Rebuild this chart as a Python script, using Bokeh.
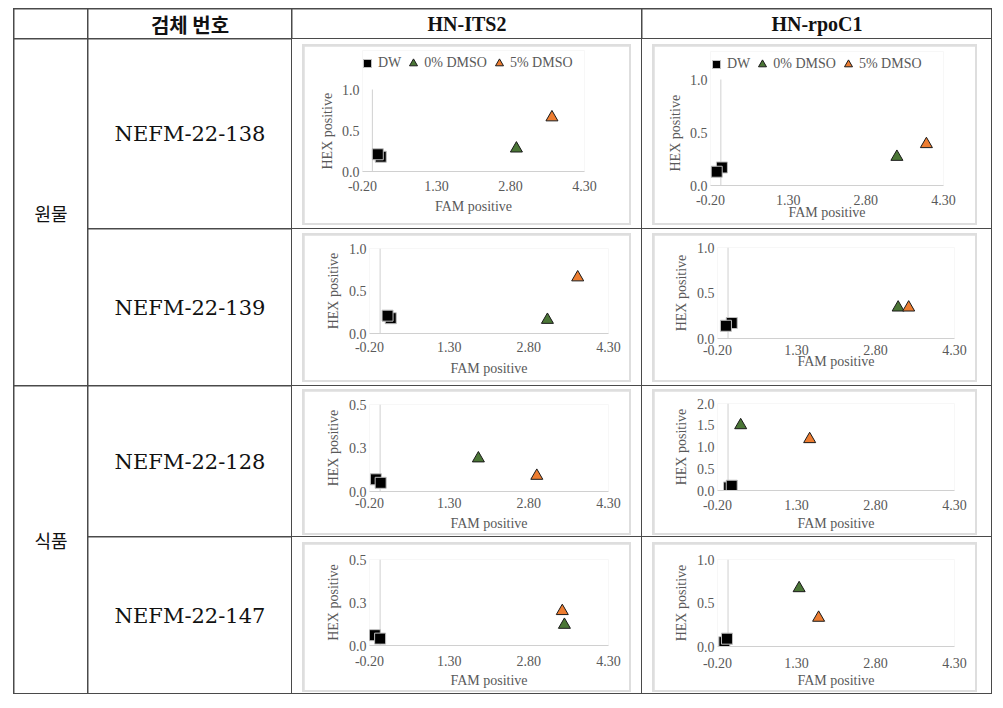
from bokeh.plotting import figure
from bokeh.layouts import row, column
from bokeh.models import Range1d, FixedTicker, PrintfTickFormatter, Legend, LegendItem, Spacer, Title
from bokeh.core.properties import value
from bokeh.embed import file_html
from bokeh.resources import INLINE

# ---------------- data ----------------
headers = ["", "검체 번호", "HN-ITS2", "HN-rpoC1"]
groups = ["원물", "식품"]
samples = ["NEFM-22-138", "NEFM-22-139", "NEFM-22-128", "NEFM-22-147"]
series_names = ["DW", "0% DMSO", "5% DMSO"]
x_axis_title = "FAM positive"
y_axis_title = "HEX positive"
x_ticks = [-0.2, 1.3, 2.8, 4.3]
y_axis_cross = 0.0

its2_y_ticks = [[0.0, 0.5, 1.0], [0.0, 0.5, 1.0], [0.0, 0.25, 0.5], [0.0, 0.25, 0.5]]
rpoc1_y_ticks = [[0.0, 0.5, 1.0], [0.0, 0.5, 1.0], [0.0, 0.5, 1.0, 1.5, 2.0], [0.0, 0.5, 1.0]]

# HN-ITS2 (samples in order 138, 139, 128, 147)
its2_dw_fam = [[0.17, 0.11], [0.20, 0.14], [-0.08, 0.01], [-0.10, 0.00]]
its2_dw_hex = [[0.18, 0.21], [0.18, 0.21], [0.07, 0.05], [0.06, 0.04]]
its2_dmso0_fam = [2.92, 3.15, 1.85, 3.47]
its2_dmso0_hex = [0.28, 0.16, 0.19, 0.12]
its2_dmso5_fam = [3.64, 3.72, 2.95, 3.43]
its2_dmso5_hex = [0.66, 0.66, 0.09, 0.20]

# HN-rpoC1
rpoc1_dw_fam = [[0.02, -0.08], [0.07, -0.04], [0.02, 0.07], [-0.07, -0.02]]
rpoc1_dw_hex = [[0.17, 0.13], [0.17, 0.14], [0.07, 0.11], [0.05, 0.09]]
rpoc1_dmso0_fam = [3.40, 3.23, 0.24, 1.35]
rpoc1_dmso0_hex = [0.27, 0.34, 1.50, 0.67]
rpoc1_dmso5_fam = [3.97, 3.43, 1.55, 1.72]
rpoc1_dmso5_hex = [0.39, 0.34, 1.18, 0.33]

# ---------------- style / layout ----------------
LINE = "#4a4a4a"
BOX = "#dedede"
AXIS = "#d0d0d0"
TXT = "#595959"
GREEN = "#4b7636"
ORANGE = "#ed7d31"
SERIF = "Liberation Serif"
KOR = "Noto Sans CJK KR"

col_w = [73, 203, 349, 349]
header_h = 29
row_h = [189, 156, 150, 156]

# (fig_w, fig_h, border_l, border_r, border_t, border_b, tick_standoff, title_standoff,
#  legend_band_px, hex_title_offset_px)
its2_geo = [(325, 177, 58, 45, 43, 52, 9, 5, 39, 2),
            (325, 145, 65, 21, 13, 47, 8, 6, 0, 0),
            (325, 142, 65, 21, 13, 42, 6, 5, 0, 0),
            (325, 146, 65, 21, 15, 45, 10, 4, 0, 0)]
rpoc1_geo = [(321, 177, 56, 32, 33, 38, 9, -3, 28, 14),
             (321, 145, 63, 21, 12, 42, 6, -4, 0, 0),
             (321, 142, 63, 21, 12, 42, 9, 3, 0, 0),
             (321, 146, 63, 21, 15, 44, 11, 2, 0, 0)]
# cell padding (top, right, bottom, left) around chart box
its2_pad = [(5, 10, 3, 10), (4, 10, 3, 10), (3, 10, 1, 10), (5, 10, 1, 10)]
rpoc1_pad = [(5, 14, 3, 10), (4, 14, 3, 10), (3, 14, 1, 10), (5, 14, 1, 10)]
# legend position (x from frame left, y of legend bottom from frame bottom), px
legend_locs_its2 = [(-5, 98), None, None, None]
legend_locs_rpoc1 = [(-4, 111), None, None, None]


def text_cell(txt, w, h, font, size, style="normal"):
    p = figure(width=w, height=h, x_range=Range1d(0, 1), y_range=Range1d(0, 1),
               output_backend="svg", toolbar_location=None,
               x_axis_location=None, y_axis_location=None, min_border=0)
    p.grid.visible = False
    p.outline_line_color = None
    p.background_fill_color = "white"
    p.border_fill_color = "white"
    if txt:
        p.text(x=[0.5], y=[0.5], text=[txt], text_align="center", text_baseline="middle",
               text_font=value(font), text_font_size=f"{size}px", text_font_style=style,
               text_color="#111111")
    return p


def make_chart(dw_f, dw_h, d0_f, d0_h, d5_f, d5_h, y_ticks, geo, legend_loc):
    w, h, bl, br, bt, bb, tsd, asd, band, hex_off = geo
    ymin, ymax = y_ticks[0], y_ticks[-1]
    plot_px = h - bt - bb
    # the frame is extended upward by `band` pixels to host the legend
    y_view_max = ymax + (ymax - ymin) * band / plot_px
    p = figure(width=w, height=h,
               x_range=Range1d(x_ticks[0], x_ticks[-1]),
               y_range=Range1d(ymin, y_view_max),
               output_backend="svg", toolbar_location=None,
               min_border_left=bl, min_border_right=br,
               min_border_top=bt - band, min_border_bottom=bb)
    p.grid.visible = False
    p.outline_line_color = None
    p.background_fill_color = "white"
    p.border_fill_color = "white"

    # vertical axis line crossing at FAM = 0 (Excel style), from 0 to axis max
    p.segment(x0=[y_axis_cross], y0=[ymin], x1=[y_axis_cross], y1=[ymax],
              line_color=AXIS, line_width=1)

    r_dw = p.scatter(dw_f, dw_h, marker="square", size=11, fill_color="black",
                     line_color="#bfbfbf", line_width=1)
    r0 = p.scatter([d0_f], [d0_h], marker="triangle", size=12, fill_color=GREEN,
                   line_color="#1a1a1a", line_width=1)
    r5 = p.scatter([d5_f], [d5_h], marker="triangle", size=12, fill_color=ORANGE,
                   line_color="#1a1a1a", line_width=1)

    xa = p.xaxis[0]
    xa.ticker = FixedTicker(ticks=x_ticks)
    xa.formatter = PrintfTickFormatter(format="%.2f")
    xa.axis_line_color = AXIS
    xa.major_tick_out = 0
    xa.major_tick_in = 0
    xa.major_tick_line_color = None
    xa.minor_tick_line_color = None
    xa.major_label_standoff = tsd
    xa.axis_label = x_axis_title
    xa.axis_label_standoff = asd

    ya = p.yaxis[0]
    ya.ticker = FixedTicker(ticks=y_ticks)
    ya.formatter = PrintfTickFormatter(format="%.1f")
    ya.axis_line_color = None
    ya.major_tick_out = 0
    ya.major_tick_in = 0
    ya.major_tick_line_color = None
    ya.minor_tick_line_color = None
    ya.major_label_standoff = 3

    for ax in (xa, ya):
        ax.major_label_text_font = SERIF
        ax.major_label_text_font_size = "14px"
        ax.major_label_text_color = TXT
        ax.axis_label_text_font = SERIF
        ax.axis_label_text_font_size = "14px"
        ax.axis_label_text_font_style = "normal"
        ax.axis_label_text_color = TXT

    if band > 0:
        # title placed along the 0..max part of the axis, not the legend band
        p.add_layout(Title(text=y_axis_title, align="left", offset=hex_off,
                           vertical_align="middle", standoff=6,
                           text_font=SERIF, text_font_size="14px",
                           text_font_style="normal", text_color=TXT), "left")
    else:
        ya.axis_label = y_axis_title
        ya.axis_label_standoff = 5

    if legend_loc is not None:
        leg = Legend(items=[LegendItem(label=n, renderers=[r])
                            for n, r in zip(series_names, [r_dw, r0, r5])],
                     location=legend_loc, orientation="horizontal",
                     glyph_width=20, glyph_height=20, label_standoff=1, spacing=2,
                     padding=0, margin=0, border_line_color=None,
                     background_fill_alpha=0,
                     label_text_font=SERIF, label_text_font_size="14px",
                     label_text_color=TXT, label_text_baseline="middle")
        p.add_layout(leg, "center")
    return p


def boxed(fig, pad):
    t, r, b, l = pad
    box = row(fig, styles={"background-color": BOX, "padding": "2px"})
    return row(box, styles={"background-color": "white",
                            "padding": f"{t}px {r}px {b}px {l}px"})


header = row(
    text_cell(headers[0], col_w[0], header_h, KOR, 20, "bold"),
    text_cell(headers[1], col_w[1], header_h, KOR, 20, "bold"),
    text_cell(headers[2], col_w[2], header_h, SERIF, 20, "bold"),
    text_cell(headers[3], col_w[3], header_h, SERIF, 20, "bold"),
    spacing=1)

sample_rows = []
for i, s in enumerate(samples):
    c_its2 = make_chart(its2_dw_fam[i], its2_dw_hex[i], its2_dmso0_fam[i], its2_dmso0_hex[i],
                        its2_dmso5_fam[i], its2_dmso5_hex[i], its2_y_ticks[i],
                        its2_geo[i], legend_locs_its2[i])
    c_rpoc1 = make_chart(rpoc1_dw_fam[i], rpoc1_dw_hex[i], rpoc1_dmso0_fam[i], rpoc1_dmso0_hex[i],
                         rpoc1_dmso5_fam[i], rpoc1_dmso5_hex[i], rpoc1_y_ticks[i],
                         rpoc1_geo[i], legend_locs_rpoc1[i])
    sample_rows.append(row(
        text_cell(s, col_w[1], row_h[i], "DejaVu Serif", 21),
        boxed(c_its2, its2_pad[i]),
        boxed(c_rpoc1, rpoc1_pad[i]),
        spacing=1))

group1 = row(text_cell(groups[0], col_w[0], row_h[0] + row_h[1] + 1, KOR, 18),
             column(sample_rows[0], sample_rows[1], spacing=1), spacing=1)
group2 = row(text_cell(groups[1], col_w[0], row_h[2] + row_h[3] + 1, KOR, 18),
             column(sample_rows[2], sample_rows[3], spacing=1), spacing=1)

table = column(header, group1, group2, spacing=1,
               styles={"background-color": LINE, "padding": "1px"})
root = column(Spacer(width=10, height=8), row(Spacer(width=13, height=10), table))

open("out.html", "w").write(file_html(root, INLINE))
